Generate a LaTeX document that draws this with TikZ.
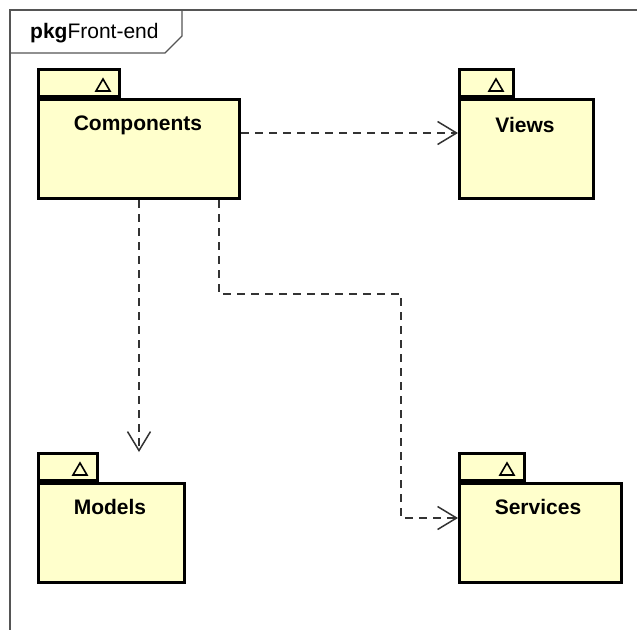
\documentclass[tikz,border=0pt]{standalone}
\usepackage{fontspec}
\setmainfont{Liberation Sans}
\usetikzlibrary{arrows.meta,calc}
\definecolor{pkgfill}{HTML}{FFFFCC}
\definecolor{framecol}{HTML}{555555}
\definecolor{depcol}{HTML}{333333}
\tikzset{
  pkgbody/.style={draw=black, fill=pkgfill, line width=3pt, inner sep=0pt, anchor=north west},
  pkgtab/.style={draw=black, fill=pkgfill, line width=3pt, inner sep=0pt, anchor=south west},
  pkglabel/.style={font=\fontsize{21}{24}\selectfont\bfseries, inner sep=0pt},
  tri/.style={draw=black, line width=1.6pt, line join=miter},
  dep/.style={draw=depcol, line width=1.5pt, dash pattern=on 8pt off 6pt,
    -{Straight Barb[length=19pt,width=23pt,line width=1.5pt]}},
  framestyle/.style={draw=framecol, line width=1.4pt}
}
\begin{document}
\begin{tikzpicture}[x=1pt,y=-1pt]
\useasboundingbox (0,0) rectangle (637,629);
% frame
\draw[framestyle] (10,640) -- (10,10) -- (650,10);
\draw[framestyle] (10,53) -- (165,53) -- (182,36) -- (182,10);
\node[anchor=west, inner sep=0pt, font=\fontsize{21}{24}\selectfont] (title) at (30,33) {\textbf{pkg}Front-end};

% Components
\node[pkgtab, minimum width=81pt, minimum height=27pt] (comptab) at (37,98) {};
\node[pkgbody, minimum width=201pt, minimum height=99pt] (comp) at (37,98) {};
\draw[tri] (96,91) -- (110,91) -- (103,79) -- cycle;
\node[pkglabel] (complbl) at (138,125) {Components};

% Views
\node[pkgtab, minimum width=54pt, minimum height=27pt] (viewtab) at (458,98) {};
\node[pkgbody, minimum width=134pt, minimum height=99pt] (views) at (458,98) {};
\draw[tri] (489,91) -- (503,91) -- (496,79) -- cycle;
\node[pkglabel] (viewslbl) at (525,125) {Views};

% Models
\node[pkgtab, minimum width=59pt, minimum height=27pt] (modtab) at (37,482) {};
\node[pkgbody, minimum width=146pt, minimum height=99pt] (models) at (37,482) {};
\draw[tri] (73,475) -- (87,475) -- (80,463) -- cycle;
\node[pkglabel] (modelslbl) at (110,507) {Models};

% Services
\node[pkgtab, minimum width=65pt, minimum height=27pt] (servtab) at (458,482) {};
\node[pkgbody, minimum width=162pt, minimum height=99pt] (serv) at (458,482) {};
\draw[tri] (500,475) -- (514,475) -- (507,463) -- cycle;
\node[pkglabel] (servlbl) at (538,507) {Services};

% dependencies
\draw[dep] ($(comp.north east)+(0,35)$) -- ($(views.north west)+(0,35)$);
\draw[dep] (comp.south) -- (comp.south |- modtab.north);
\coordinate (e1) at (219,294);
\coordinate (e2) at (401,294);
\draw[dep] (comp.south -| e1) -- (e1) -- (e2) |- ($(serv.north west)+(0,36)$);
\end{tikzpicture}
\end{document}
